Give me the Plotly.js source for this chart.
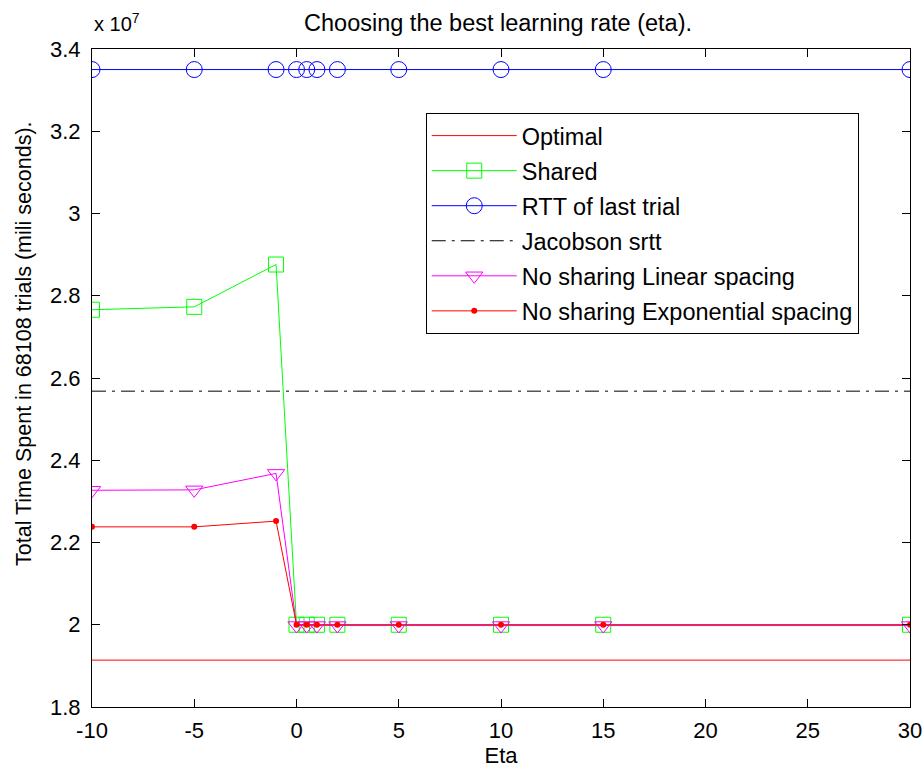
<!DOCTYPE html>
<html>
<head>
<meta charset="utf-8">
<script src="https://cdn.plot.ly/plotly-3.0.1.min.js"></script>
<style>html,body{margin:0;padding:0;background:#fff;}#chart{width:923px;height:773px;}</style>
</head>
<body>
<div id="chart"></div>
<script>
// Eta values (x axis)
var etas = [-10, -5, -1, 0, 0.5, 1, 2, 5, 10, 15, 30];
// Values in units of 1e7 milliseconds
var optimalX = [-10, 30];
var optimalY = [1.914, 1.914];
var shared = [2.766, 2.773, 2.876, 2.0, 2.0, 2.0, 2.0, 2.0, 2.0, 2.0, 2.0];
var rttLast = [3.35, 3.35, 3.35, 3.35, 3.35, 3.35, 3.35, 3.35, 3.35, 3.35, 3.35];
var jacobsonX = [-10, 30];
var jacobsonY = [2.568, 2.568];
var linearSpacing = [2.327, 2.328, 2.368, 1.998, 1.998, 1.998, 1.998, 1.998, 1.998, 1.998, 1.998];
var expSpacing = [2.238, 2.238, 2.252, 2.0, 2.0, 2.0, 2.0, 2.0, 2.0, 2.0, 2.0];

var seriesNames = ["Optimal", "Shared", "RTT of last trial", "Jacobson srtt",
                   "No sharing Linear spacing", "No sharing Exponential spacing"];
var xTicks = [-10, -5, 0, 5, 10, 15, 20, 25, 30];
var xTickText = ["-10", "-5", "0", "5", "10", "15", "20", "25", "30"];
var yTicks = [1.8, 2, 2.2, 2.4, 2.6, 2.8, 3, 3.2, 3.4];
var yTickText = ["1.8", "2", "2.2", "2.4", "2.6", "2.8", "3", "3.2", "3.4"];

var FONT = "Liberation Sans, Arial, sans-serif";

var traces = [
  {x: optimalX, y: optimalY, name: seriesNames[0], mode: "lines", legendgroup: "g0",
   line: {color: "#ff0000", width: 1}},
  {x: etas, y: shared, name: seriesNames[1], mode: "lines+markers", legendgroup: "g1",
   line: {color: "#00ff00", width: 1},
   marker: {symbol: "square-open", size: 15, color: "#00ff00", line: {width: 1}}},
  {x: etas, y: rttLast, name: seriesNames[2], mode: "lines+markers", legendgroup: "g2",
   line: {color: "#0000ff", width: 1},
   marker: {symbol: "circle-open", size: 16, color: "#0000ff", line: {width: 1}}},
  {x: jacobsonX, y: jacobsonY, name: seriesNames[3], mode: "lines", legendgroup: "g3",
   line: {color: "#000000", width: 1, dash: "14px,6px,3px,6px"}},
  {x: etas, y: linearSpacing, name: seriesNames[4], mode: "lines+markers", legendgroup: "g4",
   line: {color: "#ff00ff", width: 1},
   marker: {symbol: "triangle-down-open", size: 15, color: "#ff00ff", line: {width: 1}}},
  {x: etas, y: expSpacing, name: seriesNames[5], mode: "lines+markers", legendgroup: "g5",
   line: {color: "#ff0000", width: 1},
   marker: {symbol: "circle", size: 6, color: "#ff0000"}}
];

var axisCommon = {
  showgrid: false, zeroline: false, showline: true, linecolor: "#000", linewidth: 1,
  mirror: "ticks", ticks: "inside", ticklen: 8, tickcolor: "#000", tickwidth: 1,
  tickfont: {family: FONT, size: 22, color: "#000"}
};

var layout = {
  width: 923, height: 773,
  paper_bgcolor: "#fff", plot_bgcolor: "#fff",
  margin: {l: 92, r: 13, t: 49, b: 66},
  showlegend: true,
  title: {text: "Choosing the best learning rate (eta).", font: {family: FONT, size: 23.5, color: "#000"},
          x: 0.5396, xanchor: "center", y: 0.971, yanchor: "middle", xref: "container", yref: "container"},
  xaxis: Object.assign({}, axisCommon, {
    range: [-10, 30], tickmode: "array", tickvals: xTicks, ticktext: xTickText, ticklabelstandoff: 4,
    title: {text: "Eta", font: {family: FONT, size: 22, color: "#000"}, standoff: 4}
  }),
  yaxis: Object.assign({}, axisCommon, {
    range: [1.8, 3.4], tickmode: "array", tickvals: yTicks, ticktext: yTickText, ticklabelstandoff: 6
  }),
  legend: {
    x: 0.408, y: 0.903, xanchor: "left", yanchor: "top",
    bgcolor: "#fff", bordercolor: "#000", borderwidth: 1,
    font: {family: FONT, size: 23.5, color: "#000"},
    itemwidth: 85, tracegroupgap: 1.5
  },
  annotations: [
    {text: "x 10<sup>7</sup>", xref: "paper", yref: "paper", x: 0, y: 1.041,
     xanchor: "left", yanchor: "middle", showarrow: false,
     font: {family: FONT, size: 20, color: "#000"}},
    {text: "Total Time Spent in 68108 trials (mili seconds).", xref: "paper", yref: "paper",
     x: -0.0831, y: 0.5517, xanchor: "center", yanchor: "middle", textangle: -90, showarrow: false,
     font: {family: FONT, size: 21.5, color: "#000"}}
  ]
};

Plotly.newPlot("chart", traces, layout, {displayModeBar: false, staticPlot: true});
</script>
</body>
</html>
